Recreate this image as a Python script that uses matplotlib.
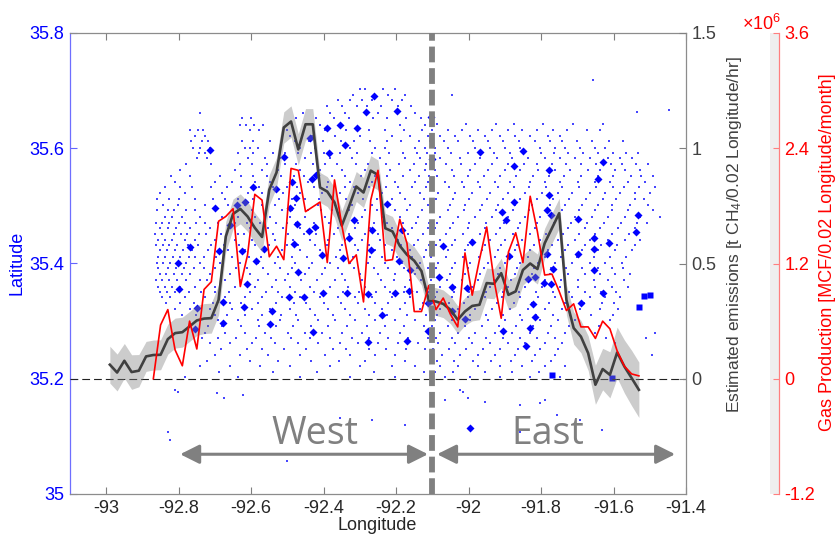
import matplotlib
matplotlib.use('Agg')
import matplotlib.pyplot as plt
from matplotlib.patches import Rectangle
import numpy as np

plt.rcParams['font.family'] = ['Liberation Sans', 'DejaVu Sans']
plt.rcParams['axes.unicode_minus'] = False
plt.rcParams['mathtext.fontset'] = 'custom'
plt.rcParams['mathtext.rm'] = 'Liberation Sans'
plt.rcParams['mathtext.it'] = 'Liberation Sans'
plt.rcParams['mathtext.bf'] = 'Liberation Sans:bold'

# ---------------- data ----------------
# 0.02-degree longitude bin centres
bin_lon = [-92.99, -92.97, -92.95, -92.93, -92.91, -92.89, -92.87, -92.85, -92.83, -92.81,
           -92.79, -92.77, -92.75, -92.73, -92.71, -92.69, -92.67, -92.65, -92.63, -92.61,
           -92.59, -92.57, -92.55, -92.53, -92.51, -92.49, -92.47, -92.45, -92.43, -92.41,
           -92.39, -92.37, -92.35, -92.33, -92.31, -92.29, -92.27, -92.25, -92.23, -92.21,
           -92.19, -92.17, -92.15, -92.13, -92.11, -92.09, -92.07, -92.05, -92.03, -92.01,
           -91.99, -91.97, -91.95, -91.93, -91.91, -91.89, -91.87, -91.85, -91.83, -91.81,
           -91.79, -91.77, -91.75, -91.73, -91.71, -91.69, -91.67, -91.65, -91.63, -91.61,
           -91.59, -91.57, -91.55, -91.53]

# estimated emissions [t CH4 / 0.02 lon / hr]
emissions = [0.061, 0.027, 0.078, 0.029, 0.035, 0.097, 0.103, 0.104, 0.172, 0.198,
             0.202, 0.227, 0.253, 0.261, 0.263, 0.342, 0.617, 0.715, 0.737, 0.704,
             0.655, 0.615, 0.820, 0.895, 1.090, 1.116, 0.995, 1.104, 1.104, 0.830,
             0.812, 0.765, 0.664, 0.747, 0.834, 0.808, 0.903, 0.884, 0.653, 0.639,
             0.577, 0.538, 0.512, 0.467, 0.340, 0.335, 0.325, 0.299, 0.256, 0.292,
             0.316, 0.321, 0.415, 0.412, 0.458, 0.364, 0.379, 0.472, 0.500, 0.476,
             0.588, 0.653, 0.718, 0.342, 0.220, 0.183, 0.111, -0.026, 0.042, 0.017,
             0.114, 0.053, 0.003, -0.048]

emissions_err = [0.080, 0.080, 0.075, 0.075, 0.070, 0.065, 0.065, 0.065, 0.065, 0.065,
                 0.065, 0.065, 0.065, 0.065, 0.065, 0.065, 0.065, 0.065, 0.065, 0.065,
                 0.065, 0.065, 0.065, 0.065, 0.068, 0.068, 0.068, 0.068, 0.068, 0.065,
                 0.065, 0.065, 0.065, 0.065, 0.065, 0.065, 0.065, 0.065, 0.065, 0.065,
                 0.060, 0.060, 0.060, 0.060, 0.060, 0.060, 0.060, 0.060, 0.060, 0.060,
                 0.065, 0.065, 0.065, 0.065, 0.065, 0.065, 0.065, 0.065, 0.065, 0.065,
                 0.065, 0.065, 0.065, 0.065, 0.070, 0.070, 0.075, 0.085, 0.090, 0.100,
                 0.110, 0.115, 0.120, 0.120]

# gas production [MCF / 0.02 lon / month], starts at bin -92.87
gas_lon = bin_lon[6:]
gas_prod = [0.00, 0.56, 0.72, 0.30, 0.135, 0.60, 0.31, 0.93, 1.01, 1.64,
            1.69, 1.77, 0.96, 1.29, 1.92, 1.86, 1.27, 1.38, 1.24, 2.19,
            2.17, 1.74, 1.79, 1.84, 1.21, 2.07, 1.60, 1.20, 1.29, 0.80,
            1.86, 2.17, 1.23, 1.24, 1.66, 1.41, 0.70, 0.70, 0.97, 0.72,
            0.84, 0.67, 0.54, 1.31, 0.87, 1.24, 1.58, 1.03, 0.63, 1.32,
            1.52, 1.21, 1.90, 1.53, 1.08, 1.09, 0.91, 0.71, 0.78, 0.54,
            0.54, 0.42, 0.60, 0.52, 0.29, 0.13, 0.05, 0.03]
gas_prod = [g * 1e6 for g in gas_prod]

# well locations (small dots), rows of (latitude, [longitudes])
west_rows = [
    (35.703, [-92.300, -92.286, -92.236, -92.203]),
    (35.692, [-92.318, -92.262, -92.222, -92.176]),
    (35.684, [-92.360, -92.327, -92.294, -92.267, -92.211, -92.184]),
    (35.673, [-92.392, -92.349, -92.309, -92.281, -92.241, -92.196, -92.158]),
    (35.662, [-92.741, -92.457, -92.382, -92.341, -92.250, -92.148]),
    (35.652, [-92.625, -92.601, -92.475, -92.420, -92.372, -92.331, -92.265, -92.226, -92.173, -92.131]),
    (35.641, [-92.631, -92.614, -92.592, -92.567, -92.410, -92.189, -92.120]),
    (35.631, [-92.768, -92.748, -92.733, -92.604, -92.578, -92.502, -92.455, -92.396, -92.338, -92.276, -92.232, -92.179, -92.128]),
    (35.622, [-92.755, -92.727, -92.493, -92.432, -92.369, -92.300, -92.211, -92.162, -92.112]),
    (35.612, [-92.766, -92.736, -92.720, -92.624, -92.596, -92.548, -92.478, -92.441, -92.401, -92.352, -92.317, -92.272, -92.226, -92.186, -92.137]),
    (35.601, [-92.761, -92.741, -92.714, -92.617, -92.603, -92.581, -92.465, -92.424, -92.327, -92.258, -92.231, -92.148, -92.120]),
    (35.592, [-92.744, -92.728, -92.636, -92.594, -92.541, -92.506, -92.471, -92.436, -92.398, -92.354, -92.308, -92.266, -92.219, -92.182, -92.141, -92.114]),
    (35.583, [-92.750, -92.722, -92.609, -92.562, -92.520, -92.451, -92.382, -92.322, -92.244, -92.175, -92.134]),
    (35.572, [-92.781, -92.712, -92.632, -92.598, -92.556, -92.506, -92.476, -92.430, -92.395, -92.362, -92.312, -92.277, -92.228, -92.193, -92.150, -92.118]),
    (35.562, [-92.796, -92.645, -92.570, -92.526, -92.465, -92.410, -92.349, -92.286, -92.217, -92.162, -92.120]),
    (35.551, [-92.822, -92.768, -92.686, -92.628, -92.595, -92.557, -92.517, -92.482, -92.455, -92.418, -92.376, -92.340, -92.298, -92.258, -92.225, -92.180, -92.137, -92.108]),
    (35.541, [-92.810, -92.700, -92.653, -92.589, -92.548, -92.493, -92.443, -92.388, -92.327, -92.267, -92.203, -92.148, -92.112]),
    (35.532, [-92.838, -92.796, -92.762, -92.712, -92.668, -92.627, -92.579, -92.541, -92.501, -92.474, -92.427, -92.392, -92.342, -92.315, -92.276, -92.229, -92.196, -92.157, -92.117]),
    (35.523, [-92.852, -92.783, -92.680, -92.609, -92.570, -92.512, -92.465, -92.404, -92.355, -92.305, -92.239, -92.189, -92.134]),
    (35.512, [-92.859, -92.826, -92.798, -92.756, -92.705, -92.672, -92.637, -92.596, -92.554, -92.524, -92.488, -92.452, -92.412, -92.376, -92.338, -92.291, -92.254, -92.211, -92.176, -92.124]),
    (35.502, [-92.843, -92.802, -92.727, -92.664, -92.617, -92.570, -92.534, -92.479, -92.416, -92.369, -92.322, -92.267, -92.217, -92.162, -92.112]),
    (35.492, [-92.861, -92.829, -92.812, -92.780, -92.756, -92.699, -92.651, -92.627, -92.598, -92.559, -92.515, -92.488, -92.443, -92.406, -92.378, -92.331, -92.286, -92.253, -92.204, -92.171, -92.129]),
    (35.481, [-92.838, -92.819, -92.791, -92.741, -92.680, -92.636, -92.589, -92.548, -92.493, -92.451, -92.396, -92.341, -92.294, -92.239, -92.189, -92.140]),
    (35.471, [-92.864, -92.845, -92.826, -92.800, -92.782, -92.751, -92.727, -92.691, -92.646, -92.612, -92.577, -92.532, -92.502, -92.476, -92.428, -92.386, -92.352, -92.305, -92.262, -92.226, -92.181, -92.146, -92.109]),
    (35.462, [-92.852, -92.830, -92.807, -92.769, -92.714, -92.658, -92.603, -92.554, -92.512, -92.465, -92.416, -92.360, -92.313, -92.272, -92.211, -92.156, -92.112]),
    (35.452, [-92.866, -92.846, -92.814, -92.795, -92.778, -92.743, -92.725, -92.682, -92.636, -92.619, -92.575, -92.541, -92.498, -92.454, -92.422, -92.372, -92.331, -92.287, -92.251, -92.198, -92.168, -92.127]),
    (35.441, [-92.857, -92.838, -92.819, -92.783, -92.755, -92.700, -92.645, -92.598, -92.534, -92.485, -92.438, -92.388, -92.341, -92.294, -92.244, -92.195, -92.140]),
    (35.432, [-92.862, -92.843, -92.826, -92.804, -92.775, -92.748, -92.711, -92.676, -92.633, -92.589, -92.551, -92.502, -92.471, -92.425, -92.392, -92.349, -92.313, -92.276, -92.231, -92.186, -92.152, -92.110]),
    (35.423, [-92.852, -92.832, -92.810, -92.788, -92.763, -92.719, -92.664, -92.617, -92.562, -92.515, -92.465, -92.410, -92.355, -92.305, -92.258, -92.211, -92.162, -92.117]),
    (35.412, [-92.858, -92.838, -92.817, -92.796, -92.771, -92.754, -92.729, -92.697, -92.652, -92.606, -92.573, -92.526, -92.488, -92.446, -92.401, -92.366, -92.318, -92.272, -92.240, -92.197, -92.155, -92.124]),
    (35.401, [-92.860, -92.843, -92.824, -92.802, -92.780, -92.741, -92.686, -92.631, -92.581, -92.534, -92.479, -92.432, -92.382, -92.327, -92.278, -92.231, -92.184, -92.134]),
    (35.392, [-92.857, -92.829, -92.807, -92.786, -92.759, -92.731, -92.700, -92.641, -92.612, -92.567, -92.521, -92.486, -92.441, -92.395, -92.361, -92.316, -92.262, -92.222, -92.178, -92.141, -92.111]),
    (35.382, [-92.852, -92.835, -92.813, -92.791, -92.769, -92.714, -92.658, -92.603, -92.554, -92.498, -92.451, -92.404, -92.349, -92.300, -92.250, -92.203, -92.148]),
    (35.371, [-92.862, -92.846, -92.827, -92.806, -92.781, -92.742, -92.721, -92.672, -92.630, -92.581, -92.532, -92.506, -92.462, -92.418, -92.369, -92.341, -92.295, -92.242, -92.206, -92.163, -92.131]),
    (35.360, [-92.857, -92.838, -92.819, -92.796, -92.755, -92.700, -92.645, -92.589, -92.543, -92.493, -92.438, -92.382, -92.333, -92.286, -92.231, -92.175, -92.120]),
    (35.351, [-92.852, -92.832, -92.809, -92.771, -92.738, -92.701, -92.662, -92.603, -92.559, -92.527, -92.478, -92.427, -92.398, -92.346, -92.302, -92.255, -92.218, -92.179, -92.141, -92.108]),
    (35.342, [-92.846, -92.824, -92.783, -92.727, -92.672, -92.617, -92.570, -92.515, -92.465, -92.410, -92.360, -92.313, -92.267, -92.211, -92.162]),
    (35.331, [-92.834, -92.796, -92.757, -92.705, -92.659, -92.627, -92.581, -92.532, -92.481, -92.450, -92.398, -92.352, -92.306, -92.259, -92.222, -92.175, -92.125]),
    (35.321, [-92.810, -92.769, -92.714, -92.653, -92.598, -92.548, -92.493, -92.438, -92.388, -92.341, -92.286, -92.239, -92.189, -92.134]),
    (35.311, [-92.790, -92.751, -92.701, -92.666, -92.618, -92.571, -92.519, -92.476, -92.423, -92.375, -92.327, -92.275, -92.226, -92.171, -92.118]),
    (35.302, [-92.741, -92.692, -92.636, -92.581, -92.520, -92.471, -92.416, -92.369, -92.313, -92.258, -92.203, -92.148]),
    (35.291, [-92.718, -92.681, -92.627, -92.578, -92.532, -92.485, -92.436, -92.388, -92.335, -92.281, -92.232, -92.178, -92.123]),
    (35.280, [-92.727, -92.672, -92.617, -92.562, -92.498, -92.451, -92.404, -92.349, -92.294, -92.244, -92.189]),
    (35.271, [-92.737, -92.692, -92.641, -92.586, -92.544, -92.491, -92.438, -92.382, -92.323, -92.275, -92.222, -92.168, -92.112]),
    (35.262, [-92.714, -92.658, -92.598, -92.534, -92.471, -92.416, -92.355, -92.305, -92.250, -92.195, -92.140]),
    (35.251, [-92.684, -92.612, -92.571, -92.510, -92.448, -92.375, -92.338, -92.276, -92.229, -92.172, -92.121]),
    (35.241, [-92.700, -92.631, -92.554, -92.465, -92.396, -92.327, -92.258, -92.203]),
    (35.231, [-92.722, -92.603, -92.527, -92.436, -92.358, -92.285, -92.176]),
    (35.222, [-92.741, -92.658, -92.576, -92.493, -92.382, -92.300, -92.211, -92.148]),
    (35.212, [-92.689, -92.540, -92.418, -92.262, -92.123]),
    (35.203, [-92.783, -92.636, -92.465, -92.327, -92.203]),
]
east_rows = [
    (35.642, [-92.088, -92.006, -91.925, -91.876, -91.794, -91.712, -91.628]),
    (35.632, [-92.101, -92.058, -92.017, -91.974, -91.936, -91.892, -91.853, -91.812, -91.766, -91.728, -91.672, -91.636]),
    (35.622, [-92.079, -92.037, -91.996, -91.955, -91.913, -91.872, -91.830, -91.781, -91.748]),
    (35.612, [-92.106, -92.069, -92.029, -91.987, -91.946, -91.905, -91.862, -91.818, -91.776, -91.741, -91.701, -91.660, -91.612, -91.575]),
    (35.601, [-92.093, -92.057, -91.982, -91.941, -91.899, -91.858, -91.803, -91.761, -91.734, -91.692, -91.651, -91.623]),
    (35.592, [-92.093, -92.048, -92.003, -91.963, -91.929, -91.887, -91.846, -91.800, -91.763, -91.725, -91.683, -91.642, -91.601, -91.566, -91.533]),
    (35.583, [-92.079, -92.024, -91.968, -91.922, -91.880, -91.836, -91.789, -91.748, -91.706, -91.665, -91.615, -91.582, -91.549]),
    (35.572, [-92.104, -92.063, -92.021, -91.981, -91.936, -91.891, -91.848, -91.812, -91.771, -91.731, -91.689, -91.648, -91.607, -91.576, -91.538, -91.504]),
    (35.562, [-92.093, -92.046, -91.996, -91.946, -91.899, -91.858, -91.808, -91.761, -91.720, -91.670, -91.637, -91.596, -91.568, -91.527]),
    (35.551, [-92.087, -92.041, -92.003, -91.958, -91.914, -91.869, -91.822, -91.777, -91.736, -91.690, -91.644, -91.601, -91.553, -91.525, -91.491]),
    (35.541, [-92.065, -92.018, -91.974, -91.927, -91.886, -91.830, -91.789, -91.748, -91.698, -91.651, -91.610, -91.560, -91.513]),
    (35.532, [-92.097, -92.053, -92.012, -91.968, -91.920, -91.876, -91.832, -91.787, -91.741, -91.694, -91.649, -91.601, -91.572, -91.529, -91.486]),
    (35.523, [-92.084, -92.037, -91.991, -91.941, -91.891, -91.844, -91.797, -91.753, -91.715, -91.665, -91.623, -91.582, -91.541, -91.499]),
    (35.512, [-92.091, -92.044, -91.998, -91.950, -91.905, -91.859, -91.812, -91.766, -91.722, -91.675, -91.630, -91.592, -91.541, -91.517]),
    (35.502, [-92.101, -92.051, -92.010, -91.963, -91.919, -91.872, -91.825, -91.775, -91.734, -91.687, -91.643, -91.604, -91.554, -91.505]),
    (35.492, [-92.100, -92.058, -92.013, -91.969, -91.923, -91.878, -91.832, -91.786, -91.741, -91.696, -91.651, -91.604, -91.560, -91.491]),
    (35.481, [-92.079, -92.029, -91.982, -91.935, -91.891, -91.844, -91.803, -91.753, -91.706, -91.659, -91.615, -91.568, -91.527, -91.472]),
    (35.471, [-92.088, -92.042, -91.999, -91.951, -91.903, -91.857, -91.812, -91.765, -91.718, -91.672, -91.626, -91.579, -91.535, -91.507]),
    (35.462, [-92.093, -92.051, -92.002, -91.955, -91.913, -91.864, -91.817, -91.770, -91.726, -91.679, -91.637, -91.588, -91.541]),
    (35.452, [-92.104, -92.061, -92.016, -91.968, -91.924, -91.877, -91.830, -91.785, -91.740, -91.695, -91.650, -91.603, -91.558]),
    (35.441, [-92.079, -92.037, -91.991, -91.941, -91.899, -91.853, -91.803, -91.753, -91.706, -91.665, -91.615, -91.568, -91.527]),
    (35.432, [-92.091, -92.047, -92.001, -91.955, -91.910, -91.866, -91.819, -91.771, -91.726, -91.678, -91.634, -91.590, -91.540]),
    (35.423, [-92.101, -92.057, -92.010, -91.963, -91.919, -91.872, -91.830, -91.781, -91.734, -91.687, -91.643, -91.596, -91.549]),
    (35.412, [-92.105, -92.061, -92.016, -91.971, -91.927, -91.881, -91.835, -91.790, -91.745, -91.700, -91.655, -91.610, -91.566]),
    (35.401, [-92.084, -92.037, -91.996, -91.946, -91.899, -91.858, -91.808, -91.761, -91.715, -91.665, -91.623, -91.577]),
    (35.392, [-92.090, -92.046, -92.001, -91.957, -91.912, -91.866, -91.820, -91.773, -91.731, -91.686, -91.643, -91.605, -91.573]),
    (35.382, [-92.101, -92.051, -92.010, -91.968, -91.919, -91.872, -91.825, -91.775, -91.726, -91.679, -91.637, -91.596, -91.554]),
    (35.371, [-92.105, -92.059, -92.018, -91.975, -91.930, -91.883, -91.836, -91.790, -91.744, -91.699, -91.655, -91.614, -91.571]),
    (35.360, [-92.079, -92.037, -91.991, -91.941, -91.891, -91.844, -91.797, -91.748, -91.698, -91.651, -91.604, -91.560]),
    (35.351, [-92.088, -92.041, -91.998, -91.952, -91.905, -91.861, -91.814, -91.768, -91.723, -91.679, -91.634, -91.592]),
    (35.342, [-92.093, -92.046, -92.002, -91.955, -91.908, -91.858, -91.808, -91.761, -91.715, -91.665, -91.623, -91.582]),
    (35.331, [-92.102, -92.055, -92.013, -91.968, -91.921, -91.874, -91.826, -91.779, -91.735, -91.681, -91.631, -91.598]),
    (35.321, [-92.079, -92.029, -91.982, -91.935, -91.886, -91.836, -91.789, -91.742, -91.692, -91.637, -91.588]),
    (35.311, [-92.087, -92.041, -91.996, -91.951, -91.906, -91.859, -91.813, -91.766, -91.721, -91.662, -91.602]),
    (35.302, [-92.093, -92.046, -91.996, -91.946, -91.899, -91.853, -91.803, -91.753, -91.706, -91.610]),
    (35.291, [-92.101, -92.056, -92.010, -91.964, -91.915, -91.868, -91.822, -91.772, -91.722, -91.641]),
    (35.280, [-92.079, -92.029, -91.982, -91.927, -91.880, -91.830, -91.781, -91.734, -91.651, -91.485]),
    (35.271, [-92.091, -92.046, -92.000, -91.953, -91.905, -91.858, -91.811, -91.762, -91.620, -91.511]),
    (35.262, [-92.084, -92.037, -91.991, -91.941, -91.891, -91.844, -91.789, -91.742, -91.596]),
    (35.251, [-92.099, -92.055, -92.008, -91.960, -91.913, -91.864, -91.803, -91.752]),
    (35.241, [-92.073, -92.024, -91.974, -91.927, -91.872, -91.817, -91.761]),
    (35.231, [-92.086, -92.040, -91.989, -91.938, -91.882, -91.825, -91.772]),
    (35.222, [-92.079, -92.029, -91.974, -91.913, -91.853, -91.789, -91.734]),
    (35.212, [-92.094, -92.043, -91.956, -91.880, -91.806]),
    (35.203, [-92.065, -91.996, -91.913, -91.830, -91.748]),
]
outlier_lon = [-92.810, -92.802, -92.694, -92.675, -92.623, -92.830, -92.824, -92.501, -92.175,
               -92.355, -92.267, -92.046, -91.657, -91.535, -91.447, -92.024, -92.015, -92.002,
               -91.955, -91.858, -91.803, -91.789, -91.756, -91.692, -92.065, -92.101, -91.858,
               -91.632, -91.494]
outlier_lat = [35.181, 35.177, 35.175, 35.167, 35.172, 35.108, 35.094, 35.057, 35.120,
               35.132, 35.128, 35.692, 35.718, 35.663, 35.666, 35.180, 35.177, 35.167,
               35.160, 35.154, 35.158, 35.163, 35.137, 35.128, 35.163, 35.154, 35.108,
               35.111, 35.241]

# large wells (diamonds)
dia_west_lon = [-92.714, -92.700, -92.769, -92.801, -92.688, -92.640, -92.617, -92.596, -92.626, -92.587,
                -92.564, -92.531, -92.509, -92.488, -92.493, -92.476, -92.474, -92.482, -92.440, -92.424,
                -92.438, -92.421, -92.433, -92.392, -92.385, -92.355, -92.341, -92.307, -92.283, -92.260,
                -92.198, -92.226, -92.316, -92.329, -92.267, -92.270, -92.405, -92.346, -92.185, -92.192,
                -92.799, -92.750, -92.755, -92.677, -92.677, -92.619, -92.611, -92.543, -92.548, -92.495,
                -92.454, -92.401, -92.430, -92.335, -92.277, -92.238, -92.277, -92.203, -92.164, -92.171,
                -92.470, -92.658]
dia_west_lat = [35.597, 35.496, 35.429, 35.401, 35.422, 35.502, 35.506, 35.532, 35.422, 35.405,
                35.426, 35.529, 35.585, 35.542, 35.496, 35.513, 35.469, 35.434, 35.457, 35.464,
                35.617, 35.554, 35.546, 35.635, 35.592, 35.640, 35.606, 35.635, 35.663, 35.691,
                35.665, 35.504, 35.475, 35.445, 35.458, 35.423, 35.415, 35.409, 35.458, 35.405,
                35.355, 35.323, 35.286, 35.334, 35.297, 35.325, 35.364, 35.318, 35.295, 35.342,
                35.342, 35.348, 35.281, 35.349, 35.347, 35.311, 35.263, 35.348, 35.353, 35.266,
                35.386, 35.467]
dia_east_lon = [-92.104, -92.100, -91.968, -91.849, -91.874, -91.778, -91.778, -91.874, -91.907, -91.897,
                -91.783, -91.773, -91.991, -92.070, -91.888, -91.766, -91.784, -91.837, -91.817, -91.791,
                -91.773, -92.081, -92.045, -92.005, -92.161, -92.113, -92.047, -92.010, -91.821, -91.817,
                -91.830, -91.906, -92.113, -91.842, -91.996, -91.628, -91.642, -91.699, -91.532, -91.539,
                -91.653, -91.653, -91.612, -91.699, -91.653, -91.630, -91.691]
dia_east_lat = [35.655, 35.581, 35.594, 35.595, 35.569, 35.563, 35.519, 35.507, 35.489, 35.475,
                35.493, 35.484, 35.437, 35.431, 35.413, 35.390, 35.416, 35.373, 35.377, 35.367,
                35.364, 35.376, 35.360, 35.357, 35.388, 35.332, 35.318, 35.303, 35.330, 35.307,
                35.288, 35.283, 35.283, 35.256, 35.115, 35.577, 35.546, 35.477, 35.485, 35.455,
                35.445, 35.426, 35.435, 35.416, 35.388, 35.348, 35.331]
# square markers
sq_lon = [-91.516, -91.499, -91.529, -91.769, -91.605]
sq_lat = [35.344, 35.345, 35.324, 35.206, 35.201]

x_ticks = [-93, -92.8, -92.6, -92.4, -92.2, -92, -91.8, -91.6, -91.4]
x_ticklabels = ['-93', '-92.8', '-92.6', '-92.4', '-92.2', '-92', '-91.8', '-91.6', '-91.4']
lat_ticks = [35, 35.2, 35.4, 35.6, 35.8]
lat_ticklabels = ['35', '35.2', '35.4', '35.6', '35.8']
em_ticks = [0, 0.5, 1, 1.5]
em_ticklabels = ['0', '0.5', '1', '1.5']
gas_ticks = [-1.2e6, 0, 1.2e6, 2.4e6, 3.6e6]
gas_ticklabels = ['-1.2', '0', '1.2', '2.4', '3.6']

split_lon = -92.1
arrow_lat = 35.069
west_arrow = (-92.796, -92.112)
east_arrow = (-92.087, -91.430)

# ---------------- figure ----------------
W_PX, H_PX = 835, 538
fig = plt.figure(figsize=(W_PX / 100, H_PX / 100), dpi=100)
L, B, W, H = 70 / W_PX, 44 / H_PX, 616 / W_PX, 461 / H_PX
ax = fig.add_axes([L, B, W, H])

# light strip next to the red axis
fig.add_artist(Rectangle((770 / W_PX, B), 9 / W_PX, H, transform=fig.transFigure,
                         facecolor='#efefef', edgecolor='none', zorder=-1))

dot_lon, dot_lat = [], []
for lat, lons in west_rows + east_rows:
    dot_lon += lons
    dot_lat += [lat] * len(lons)
dot_lon += outlier_lon
dot_lat += outlier_lat

blue = '#0000ff'
ax.scatter(dot_lon, dot_lat, s=1.7, marker='s', color='#4646ff', linewidths=0, zorder=2)
ax.plot(dia_west_lon + dia_east_lon, dia_west_lat + dia_east_lat, 'D', ms=3.8,
        color=blue, mec='none', zorder=3)
ax.plot(sq_lon, sq_lat, 's', ms=4.3, color=blue, mec='none', zorder=3)

ax.axhline(35.2, color='#222222', lw=0.8, dashes=(7, 3.6), zorder=4)

arrow_kw = dict(arrowstyle='<|-|>,head_length=0.4,head_width=0.2', color='#808080',
                lw=2.2, mutation_scale=29, shrinkA=0, shrinkB=0)
ax.annotate('', xy=(west_arrow[0], arrow_lat), xytext=(west_arrow[1], arrow_lat), arrowprops=arrow_kw)
ax.annotate('', xy=(east_arrow[0], arrow_lat), xytext=(east_arrow[1], arrow_lat), arrowprops=arrow_kw)
ax.text(-92.425, 35.0876, 'West', fontsize=27, family=['Open Sans', 'DejaVu Sans'],
        color='#808080', ha='center', va='baseline')
ax.text(-91.782, 35.0876, 'East', fontsize=27, family=['Open Sans', 'DejaVu Sans'],
        color='#808080', ha='center', va='baseline')

ax.set_xlim(-93.1, -91.4)
ax.set_ylim(35, 35.8)
ax.set_xticks(x_ticks)
ax.set_xticklabels(x_ticklabels)
ax.set_yticks(lat_ticks)
ax.set_yticklabels(lat_ticklabels)
ax.tick_params(axis='x', direction='in', top=True, length=5, width=0.8, color='#7f7f7f',
               labelsize=13, labelcolor='#262626', pad=4)
ax.tick_params(axis='y', direction='in', length=5, width=0.8, color='#6464ff',
               labelsize=13, labelcolor=blue, pad=4)
for s in ['top', 'bottom']:
    ax.spines[s].set_color('#8c8c8c')
    ax.spines[s].set_linewidth(0.9)
ax.spines['left'].set_color('#6e6eff')
ax.spines['left'].set_linewidth(0.9)
ax.spines['right'].set_visible(False)

# emissions axis
ax2 = ax.twinx()
em = np.array(emissions)
er = np.array(emissions_err)
ax2.fill_between(bin_lon, em - er, em + er, color='#808080', alpha=0.4, lw=0, zorder=1)
ax2.plot(bin_lon, emissions, color='#404040', lw=1.9, zorder=2)
ax2.set_ylim(-0.5, 1.5)
ax2.set_yticks(em_ticks)
ax2.set_yticklabels(em_ticklabels)
ax2.tick_params(axis='y', direction='in', length=5, width=0.8, color='#7f7f7f',
                labelsize=13, labelcolor='#404040', pad=4)
for s in ['top', 'bottom', 'left']:
    ax2.spines[s].set_visible(False)
ax2.spines['right'].set_color('#8c8c8c')
ax2.spines['right'].set_linewidth(0.9)

# gas production axis
ax3 = ax.twinx()
ax3.spines['right'].set_position(('axes', (779 - 70) / 616))
ax3.plot(gas_lon, gas_prod, color='#ff0000', lw=1.2, zorder=2)
ax3.axvline(split_lon, color='#808080', lw=4.2, dashes=(2.7, 1.0), zorder=5)
ax3.set_ylim(-1.2e6, 3.6e6)
ax3.set_yticks(gas_ticks)
ax3.set_yticklabels(gas_ticklabels)
ax3.tick_params(axis='y', direction='in', length=4, width=0.8, color='#ff7f7f',
                labelsize=13, labelcolor='#ff0000', pad=4)
for s in ['top', 'bottom', 'left']:
    ax3.spines[s].set_visible(False)
ax3.spines['right'].set_color('#ff8080')
ax3.spines['right'].set_linewidth(0.9)
ax3.set_xlim(-93.1, -91.4)

# labels
def fy(py):
    return 1 - py / H_PX

fig.text(17 / W_PX, fy(263), 'Latitude', rotation=90, ha='center', va='center',
         fontsize=13, color=blue)
fig.text(377 / W_PX, fy(525), 'Longitude', ha='center', va='center',
         fontsize=13, color='#262626')
fig.text(734 / W_PX, fy(235), 'Estimated emissions [t CH$_4$/0.02 Longitude/hr]',
         rotation=90, ha='center', va='center', fontsize=12.5, color='#404040')
fig.text(827 / W_PX, fy(252), 'Gas Production [MCF/0.02 Longitude/month]',
         rotation=90, ha='center', va='center', fontsize=13, color='#ff0000')
fig.text(781 / W_PX, fy(30), '\u00d710$^{6}$', ha='right', va='baseline',
         fontsize=13, color='#ff0000')

fig.savefig('out.png', dpi=100)
